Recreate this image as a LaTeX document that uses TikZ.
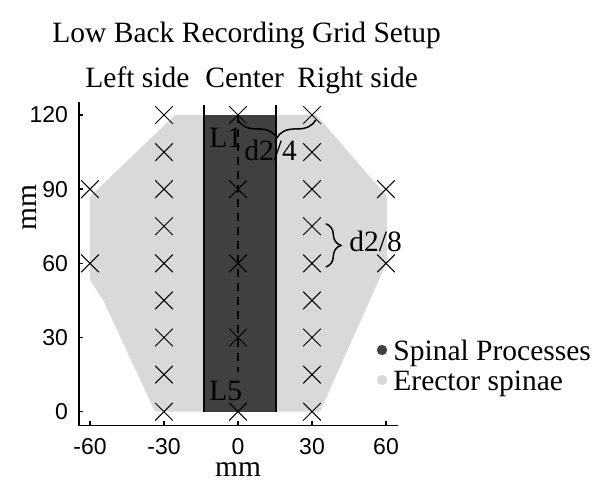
\documentclass[tikz,border=0pt]{standalone}
\usepackage{fontspec}
\setmainfont{Liberation Serif}
\newfontfamily\axisfont{Liberation Sans}
\usetikzlibrary{decorations.pathreplacing}
\definecolor{spinedark}{HTML}{404040}
\definecolor{erector}{HTML}{D9D9D9}
\tikzset{
  xmark/.pic={\draw[line width=0.5pt] (-4.4pt,-4.4pt) -- (4.4pt,4.4pt) (-4.4pt,4.4pt) -- (4.4pt,-4.4pt);},
  lbl/.style={font=\fontsize{14.75pt}{17pt}\selectfont, inner sep=0pt},
  ticklbl/.style={font=\axisfont\fontsize{11.5pt}{13pt}\selectfont, inner sep=0pt},
  axisline/.style={line width=0.75pt},
  bracestyle/.style={line width=0.75pt, decorate},
}
\begin{document}
\begin{tikzpicture}[x=0.5pt,y=-0.5pt]
\useasboundingbox[fill=white] (0,0) rectangle (600,487);

% plot area in mm units
\begin{scope}[shift={(238,411.7)}, x=1.2335pt, y=1.23625pt]
  % erector spinae region
  \fill[erector] (-25.5,120) -- (31.8,120) -- (60.4,87) -- (60.4,60.5) -- (33.2,0)
    -- (-33.6,0) -- (-54.7,45.2) -- (-60,53.3) -- (-60,87) -- cycle;
  % spinal processes
  \fill[spinedark] (-13.7,0) rectangle (15.5,120);
  \draw[line width=0.75pt] (-13.7,0) -- (-13.7,124);
  \draw[line width=0.75pt] (15.5,0) -- (15.5,124);
  \draw[line width=0.6pt, dash pattern=on 4pt off 3pt] (0,120) -- (0,16);
  % electrodes
  \foreach \yy in {0,15,...,120} {
    \pic at (-30,\yy) {xmark};
    \pic at (30,\yy) {xmark};
  }
  \foreach \yy in {0,30,...,120} { \pic at (0,\yy) {xmark}; }
  \foreach \yy in {60,90} { \pic at (-60,\yy) {xmark}; \pic at (60,\yy) {xmark}; }
  % axes
  \draw[axisline] (-64.5,125.4) -- (-64.5,-5.5) -- (65,-5.5);
  \foreach \xx in {-60,-30,0,30,60} {
    \draw[axisline] (\xx,-5.5) -- ++(0,2pt);
    \node[ticklbl, anchor=north] (xt\xx) at ([yshift=-6.2pt]\xx,-5.5) {\xx};
  }
  \foreach \yy in {0,30,60,90,120} {
    \draw[axisline] (-64.5,\yy) -- ++(2pt,0);
    \node[ticklbl, anchor=east] (yt\yy) at ([xshift=-5.3pt]-64.5,\yy) {\yy};
  }
  % braces
  \draw[bracestyle, decoration={brace, amplitude=9pt}] (31.5,118) -- (0,118);
  \draw[bracestyle, decoration={brace, amplitude=7.5pt}] (35.6,76) -- (35.6,58.5);
\end{scope}

% labels
\node[lbl, anchor=base west] (title) at (52,42) {Low Back Recording Grid Setup};
\node[lbl, anchor=base west] (left) at (85,87) {Left side};
\node[lbl, anchor=base west] (center) at (205,87) {Center};
\node[lbl, anchor=base west] (right) at (297,87) {Right side};
\node[lbl, anchor=base west] (l1) at (209,147) {L1};
\node[lbl, anchor=base west] (l5) at (209,400) {L5};
\node[lbl, anchor=base west] (d24) at (244,160) {d2/4};
\node[lbl, anchor=base west] (d28) at (349,251) {d2/8};
\node[lbl, anchor=base] (xlab) at (238,476) {mm};
\node[lbl, anchor=base, rotate=90] (ylab) at (36,208) {mm};

% legend
\fill[spinedark] (382,350) circle (2.6pt);
\fill[erector] (382,380) circle (2.6pt);
\node[lbl, anchor=base west] (leg1) at (393,360) {Spinal Processes};
\node[lbl, anchor=base west] (leg2) at (393,390) {Erector spinae};
\end{tikzpicture}
\end{document}
